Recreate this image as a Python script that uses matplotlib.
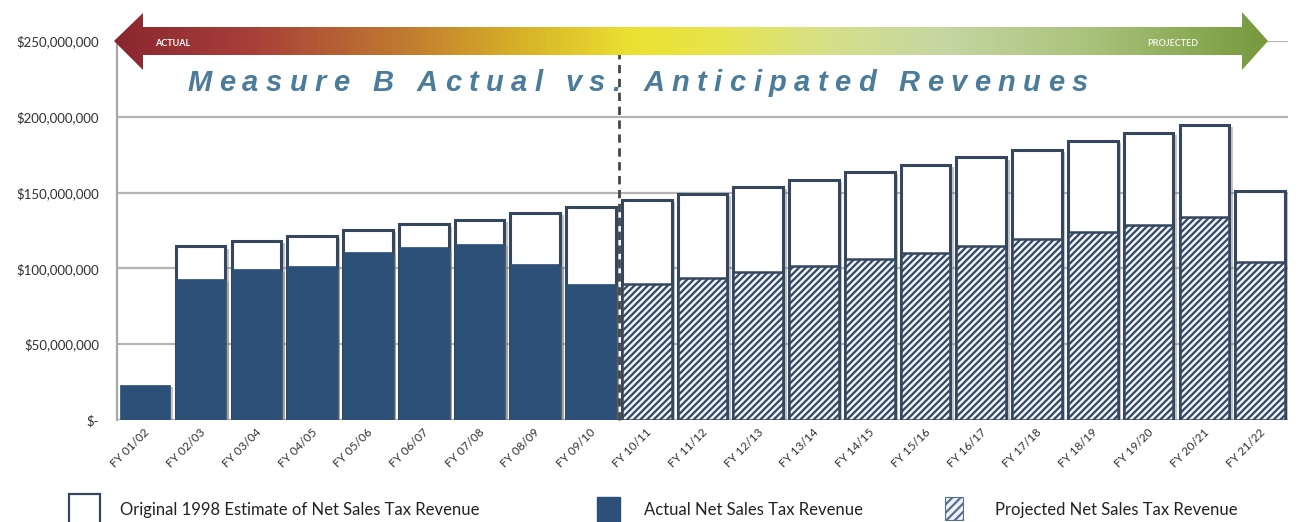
import numpy as np
import matplotlib
matplotlib.use("Agg")
import matplotlib.pyplot as plt
from matplotlib.patches import Polygon, Rectangle
from matplotlib.colors import LinearSegmentedColormap
from matplotlib.ticker import FuncFormatter
from matplotlib.font_manager import FontProperties
import matplotlib.patheffects as pe
import matplotlib.transforms as mtransforms

# ---------------- data ----------------
years = ["FY 01/02", "FY 02/03", "FY 03/04", "FY 04/05", "FY 05/06", "FY 06/07",
         "FY 07/08", "FY 08/09", "FY 09/10", "FY 10/11", "FY 11/12", "FY 12/13",
         "FY 13/14", "FY 14/15", "FY 15/16", "FY 16/17", "FY 17/18", "FY 18/19",
         "FY 19/20", "FY 20/21", "FY 21/22"]
# Original 1998 estimate (millions $); none shown for FY 01/02
original_m = [np.nan, 114.5, 118.4, 121.7, 125.5, 129.0, 132.0, 136.8, 140.8, 145.4,
              149.3, 154.0, 158.6, 163.4, 168.2, 173.2, 178.3, 183.8, 189.3, 194.7, 150.9]
# Actual net sales tax revenue (millions $)
actual_m = [23.0, 92.8, 99.3, 101.3, 110.8, 113.8, 116.4, 102.6, 89.5]
# Projected net sales tax revenue (millions $)
projected_m = [90.0, 93.4, 97.4, 101.5, 105.9, 110.1, 114.5, 119.3, 123.7, 128.3, 133.8, 104.2]

yticks = [0, 50e6, 100e6, 150e6, 200e6, 250e6]
title = "Measure B Actual vs. Anticipated Revenues"
legend_labels = ["Original 1998 Estimate of Net Sales Tax Revenue",
                 "Actual Net Sales Tax Revenue",
                 "Projected Net Sales Tax Revenue"]

# ---------------- style ----------------
NAVY = "#2c5077"
EDGE = "#34475f"
plt.rcParams["hatch.linewidth"] = 1.6
FONT = "Lato"

W, H = 1300, 522
fig = plt.figure(figsize=(W / 100, H / 100), dpi=100)
fig.patch.set_facecolor("white")

ax = fig.add_axes([117 / W, 1 - 420 / H, (1288 - 117) / W, (420 - 41) / H])
x = np.arange(len(years))
orig = np.array(original_m) * 1e6
act = np.array(actual_m) * 1e6
proj = np.array(projected_m) * 1e6
n_act = len(act)
bw = 0.89

shadow = [pe.SimplePatchShadow(offset=(2.5, -1.5), shadow_rgbFace="#7a7f86", alpha=0.45), pe.Normal()]

ax.bar(x, orig, width=bw, color="white", edgecolor=EDGE, linewidth=2.2, zorder=3,
       path_effects=shadow)
ax.bar(x[:n_act], act, width=bw, color=NAVY, edgecolor=NAVY, linewidth=0.5, zorder=4,
       path_effects=shadow)
ax.bar(x[n_act:], proj, width=bw, color="#eef3fa", edgecolor=EDGE, hatch="/////",
       linewidth=1.8, zorder=4)

ax.set_xlim(-0.5, len(years) - 0.5)
ax.set_ylim(0, 250e6)
ax.set_yticks(yticks)
ax.yaxis.set_major_formatter(FuncFormatter(lambda v, p: "$-" if v == 0 else f"${v:,.0f}"))
ax.yaxis.grid(True, color="#b4b4b4", linewidth=1.6)
ax.set_axisbelow(True)
for s in ["top", "right", "bottom"]:
    ax.spines[s].set_visible(False)
ax.spines["left"].set_color("#a8a8a8")
ax.spines["left"].set_linewidth(1.6)
ax.tick_params(axis="y", length=0, pad=13, labelsize=9.5, labelcolor="#303030")
ax.tick_params(axis="x", length=0, pad=5, labelsize=8.5, labelcolor="#303030")
for lab in ax.get_yticklabels():
    lab.set_fontfamily(FONT)
ax.set_xticks(x)
ax.set_xticklabels(years, rotation=45, ha="right", rotation_mode="anchor", fontfamily=FONT)
offset = mtransforms.ScaledTranslation(-1 / 100, 0, fig.dpi_scale_trans)
for lab in ax.get_xticklabels():
    lab.set_transform(lab.get_transform() + offset)

# divider between actual and projected
ax.vlines(n_act - 0.5, 0, 243e6, colors="#454545", linestyles=(0, (3, 2)), linewidth=2,
          zorder=6, clip_on=False)

# ---------------- overlay (arrow, title, legend) ----------------
ov = fig.add_axes([0, 0, 1, 1], facecolor="none")
ov.set_xlim(0, W)
ov.set_ylim(H, 0)
ov.axis("off")

arrow_pts = [(114, 41), (143, 13), (143, 27), (1242, 27), (1242, 12), (1268, 41),
             (1242, 70), (1242, 55), (143, 55), (143, 70)]
arrow = Polygon(arrow_pts, closed=True, facecolor="none", edgecolor="none")
ov.add_patch(arrow)
cmap = LinearSegmentedColormap.from_list("arr", [
    (0.0, "#8a2630"), (0.12, "#a8403a"), (0.25, "#c07a30"), (0.35, "#d7b028"),
    (0.45, "#ebe232"), (0.52, "#e8e44a"), (0.62, "#d6e08a"), (0.72, "#c5d6a2"),
    (0.85, "#a9c27a"), (1.0, "#76993c")])
grad = np.linspace(0, 1, 512).reshape(1, -1)
im = ov.imshow(grad, extent=(114, 1268, 71, 11), cmap=cmap, aspect="auto", zorder=5)
im.set_clip_path(arrow)
ov.text(155, 43, "ACTUAL", color="white", fontsize=6.5, fontweight="bold",
        family=FONT, va="center", ha="left", zorder=6)
ov.text(1147, 43, "PROJECTED", color="#eef2e4", fontsize=6.5, fontweight="bold",
        family=FONT, va="center", ha="left", zorder=6)

# title with wide letter spacing
fp = FontProperties(family="Liberation Sans", weight="bold", style="italic", size=21)
fig.canvas.draw()
rend = fig.canvas.get_renderer()
widths = []
for ch in title:
    if ch == " ":
        w = rend.get_text_width_height_descent("a a", fp, ismath=False)[0] - \
            rend.get_text_width_height_descent("aa", fp, ismath=False)[0]
    else:
        w = rend.get_text_width_height_descent(ch, fp, ismath=False)[0]
    widths.append(w)
x0, x1 = 187, 1088
track = ((x1 - x0) - sum(widths)) / (len(title) - 1)
xp = x0
for ch, w in zip(title, widths):
    if ch != " ":
        ov.text(xp, 91, ch, fontproperties=fp, color="#4b7c99", ha="left",
                va="baseline", zorder=7)
    xp += w + track

# legend
ov.add_patch(Rectangle((69, 494), 31, 32, facecolor="white", edgecolor=EDGE, lw=1.6, zorder=5))
ov.text(120, 510, legend_labels[0], fontsize=12, family=FONT, color="#222222", va="center")
ov.add_patch(Rectangle((597, 497), 23, 26, facecolor=NAVY, edgecolor=NAVY, lw=1, zorder=5))
ov.text(644, 510, legend_labels[1], fontsize=12, family=FONT, color="#222222", va="center")
ov.add_patch(Rectangle((945, 497), 18, 23, facecolor="#eef3fa", edgecolor="#5a6f8f",
                       hatch="////", lw=0.8, zorder=5))
ov.text(995, 510, legend_labels[2], fontsize=12, family=FONT, color="#222222", va="center")

fig.savefig("out.png", dpi=100)
